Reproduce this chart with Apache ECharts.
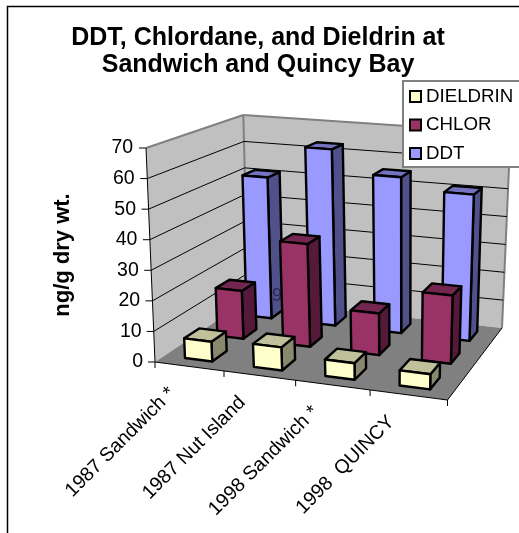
<!DOCTYPE html>
<html><head><meta charset="utf-8">
<style>html,body{margin:0;padding:0;background:#fff}#c{width:519px;height:533px}</style>
<script src="https://cdn.jsdelivr.net/npm/echarts@6/dist/echarts.min.js"></script>
</head><body><div id="c"></div>
<script>
const categories=['1987 Sandwich *','1987 Nut Island','1998 Sandwich *','1998  QUINCY'];
const dieldrin=[6.5,7.5,5.3,4.8];
const chlor=[16.5,35,14,22.7];
const ddt=[51,63,55,51];
const yTicks=[0,10,20,30,40,50,60,70];
const FONT='"Liberation Sans",Arial,sans-serif';

// view of the 3D box: corners of floor and of the plane at axis max
function quad(p){
  const [x0,y0]=p[0],[x1,y1]=p[1],[x2,y2]=p[2],[x3,y3]=p[3];
  const dx1=x1-x2,dx2=x3-x2,sx=x0-x1+x2-x3,dy1=y1-y2,dy2=y3-y2,sy=y0-y1+y2-y3;
  const den=dx1*dy2-dx2*dy1,g=(sx*dy2-dx2*sy)/den,h=(dx1*sy-sx*dy1)/den;
  const a=x1-x0+g*x1,b=x3-x0+h*x3,d=y1-y0+g*y1,e=y3-y0+h*y3;
  return (u,v)=>{const q=g*u+h*v+1;return [(a*u+b*v+x0)/q,(d*u+e*v+y0)/q];};
}
const floorQ=quad([[155,362],[447.5,400],[502,328],[248,300]]);
const topQ=quad([[146,148],[454,175],[510.5,133],[243.3,115]]);
function solid(fu,v,fw){
  const a=floorQ(fu,v),b=topQ(fu,v);
  return [a[0]+(b[0]-a[0])*fw,a[1]+(b[1]-a[1])*fw];
}
function fracs(api,cat,val){
  const band=api.size([1,0])[0];
  const left=api.coord([0,0])[0]-band/2;
  const p=api.coord([cat,val]);
  const base=api.coord([0,0])[1], top=api.coord([0,70])[1];
  return {u:(p[0]-left)/(band*4),band:1/4,w:(base-p[1])/(base-top)};
}
function poly(points,fill,stroke,lw){
  return {type:'polygon',shape:{points},style:{fill,stroke:stroke||null,lineWidth:lw||0,lineJoin:'round'}};
}
function line(a,b,stroke,lw){
  return {type:'line',shape:{x1:a[0],y1:a[1],x2:b[0],y2:b[1]},style:{stroke,lineWidth:lw}};
}
function bars(row,front,side,topc,halfW,halfD){
  return function(params,api){
    const f=fracs(api,api.value(0),api.value(1));
    const v=(row+0.5)/3, u0=f.u-halfW*f.band, u1=f.u+halfW*f.band, v0=v-halfD, v1=v+halfD;
    const P=(u,vv,w)=>solid(u,vv,w);
    const A=P(u0,v0,0),B=P(u1,v0,0),C=P(u1,v1,0),At=P(u0,v0,f.w),Bt=P(u1,v0,f.w),Ct=P(u1,v1,f.w),Dt=P(u0,v1,f.w);
    return {type:'group',children:[
      poly([B,C,Ct,Bt],side,'#000',2.4),
      poly([At,Bt,Ct,Dt],topc,'#000',2.4),
      poly([A,B,Bt,At],front,'#000',2.4)
    ]};
  };
}
function barSeries(name,data,row,front,side,topc,z){
  return {name,type:'custom',coordinateSystem:'cartesian2d',z,silent:true,
    itemStyle:{color:front,borderColor:'#000',borderWidth:2},
    encode:{x:0,y:1},
    data:data.map((d,i)=>[i,d]),
    renderItem:bars(row,front,side,topc,0.2,0.075)};
}
const chart=echarts.init(document.getElementById('c'),null,{renderer:'canvas'});
chart.setOption({
  animation:false,
  backgroundColor:'#fff',
  title:{text:'DDT, Chlordane, and Dieldrin at\nSandwich and Quincy Bay',left:253,top:20,textAlign:'center',
    textStyle:{fontFamily:FONT,fontWeight:'bold',fontSize:25,lineHeight:27,color:'#000'}},
  legend:{orient:'vertical',left:403,top:81,width:120,padding:[6,30,4,6],itemGap:9.5,itemWidth:11,itemHeight:11,
    backgroundColor:'#fff',borderColor:'#808080',borderWidth:2,borderRadius:0,
    data:[{name:'DIELDRIN',icon:'rect'},{name:'CHLOR',icon:'rect'},{name:'DDT',icon:'rect'}],
    textStyle:{fontFamily:FONT,fontSize:18.7,color:'#000'}},
  grid:{left:155,top:148,width:292.5,height:214,show:false,containLabel:false},
  xAxis:{type:'category',data:categories,show:false},
  yAxis:{type:'value',min:0,max:70,interval:10,
    name:'ng/g dry wt.',nameLocation:'middle',nameGap:81,nameRotate:90,
    nameTextStyle:{fontFamily:FONT,fontWeight:'bold',fontSize:22,color:'#000'},
    axisLine:{show:false},axisTick:{show:false},splitLine:{show:false},
    axisLabel:{margin:0,align:'right',
      formatter:v=>'{t'+v+'|'+v+'}',
      rich:Object.fromEntries(yTicks.map(t=>['t'+t,{fontFamily:FONT,fontSize:19.5,color:'#000',padding:[0,12+t*0.14,0,0]}]))}},
  series:[
    {type:'custom',name:'walls',silent:true,z:1,data:[[0,0]],encode:{x:0,y:1},
      renderItem(p,api){
        const P=(u,v,w)=>solid(u,v,w);
        const wall='#c0c0c0',edge='#808080';
        return {type:'group',children:[
          poly([P(0,0,0),P(0,1,0),P(0,1,1),P(0,0,1)],wall),
          poly([P(0,1,0),P(1,1,0),P(1,1,1),P(0,1,1)],wall),
          poly([P(0,0,0),P(1,0,0),P(1,1,0),P(0,1,0)],'#808080'),
          line(P(0,0,1),P(0,1,1),edge,2),
          line(P(0,1,1),P(1,1,1),edge,2),
          line(P(0,1,1),P(0,1,0),edge,2),
          line(P(1,1,1),P(1,1,0),edge,2)
        ]};
      }},
    {type:'custom',name:'gridlines',silent:true,z:1,data:yTicks.map(t=>[0,t]),encode:{x:0,y:1},
      renderItem(p,api){
        const w=fracs(api,0,api.value(1)).w;
        const a=solid(0,0,w),b=solid(0,1,w),c=solid(1,1,w);
        const kids=[line([a[0]-7,a[1]],a,'#000',1)];
        if(w>0&&w<1){kids.push(line(a,b,'#000',1),line(b,c,'#000',1));}
        return {type:'group',children:kids};
      }},
    {type:'custom',name:'frame',silent:true,z:1,data:[[0,0]],encode:{x:0,y:1},
      renderItem(p,api){
        const kids=[line(solid(0,0,0),solid(0,0,1),'#000',1),
          line(solid(0,0,0),solid(1,0,0),'#000',1),
          line(solid(1,0,0),solid(1,1,0),'#000',1)];
        for(let i=0;i<=4;i++){const a=solid(i/4,0,0);kids.push(line(a,[a[0],a[1]+6],'#000',1));}
        return {type:'group',children:kids};
      }},
    {type:'custom',name:'categoryLabels',silent:true,z:1,data:categories.map((c,i)=>[i,0]),encode:{x:0,y:1},
      renderItem(p,api){
        const i=api.value(0);
        const f=fracs(api,i,0);
        const a=solid(f.u,0,0);
        return {type:'text',x:a[0]-17,y:a[1]+24,rotation:Math.PI/4,
          style:{text:categories[i],align:'right',verticalAlign:'middle',font:'19.5px '+FONT,fill:'#000'}};
      }},
    barSeries('DDT',ddt,2,'#9999ff','#50508a','#7373c0',2),
    {type:'custom',name:'stray',silent:true,z:2,data:[[0,0]],encode:{x:0,y:1},
      renderItem(){return {type:'text',x:272,y:287,style:{text:'9',font:'18px '+FONT,fill:'#2a2a55'}};}},
    barSeries('CHLOR',chlor,1,'#993366','#55193a','#732650',3),
    barSeries('DIELDRIN',dieldrin,0,'#ffffcc','#88886e','#c0c09a',3)
  ],
  graphic:[{type:'rect',silent:true,z:-1,shape:{x:7.5,y:6.5,width:530,height:560},style:{fill:'#fff',stroke:'#000',lineWidth:1.5}}]
});
</script></body></html>
